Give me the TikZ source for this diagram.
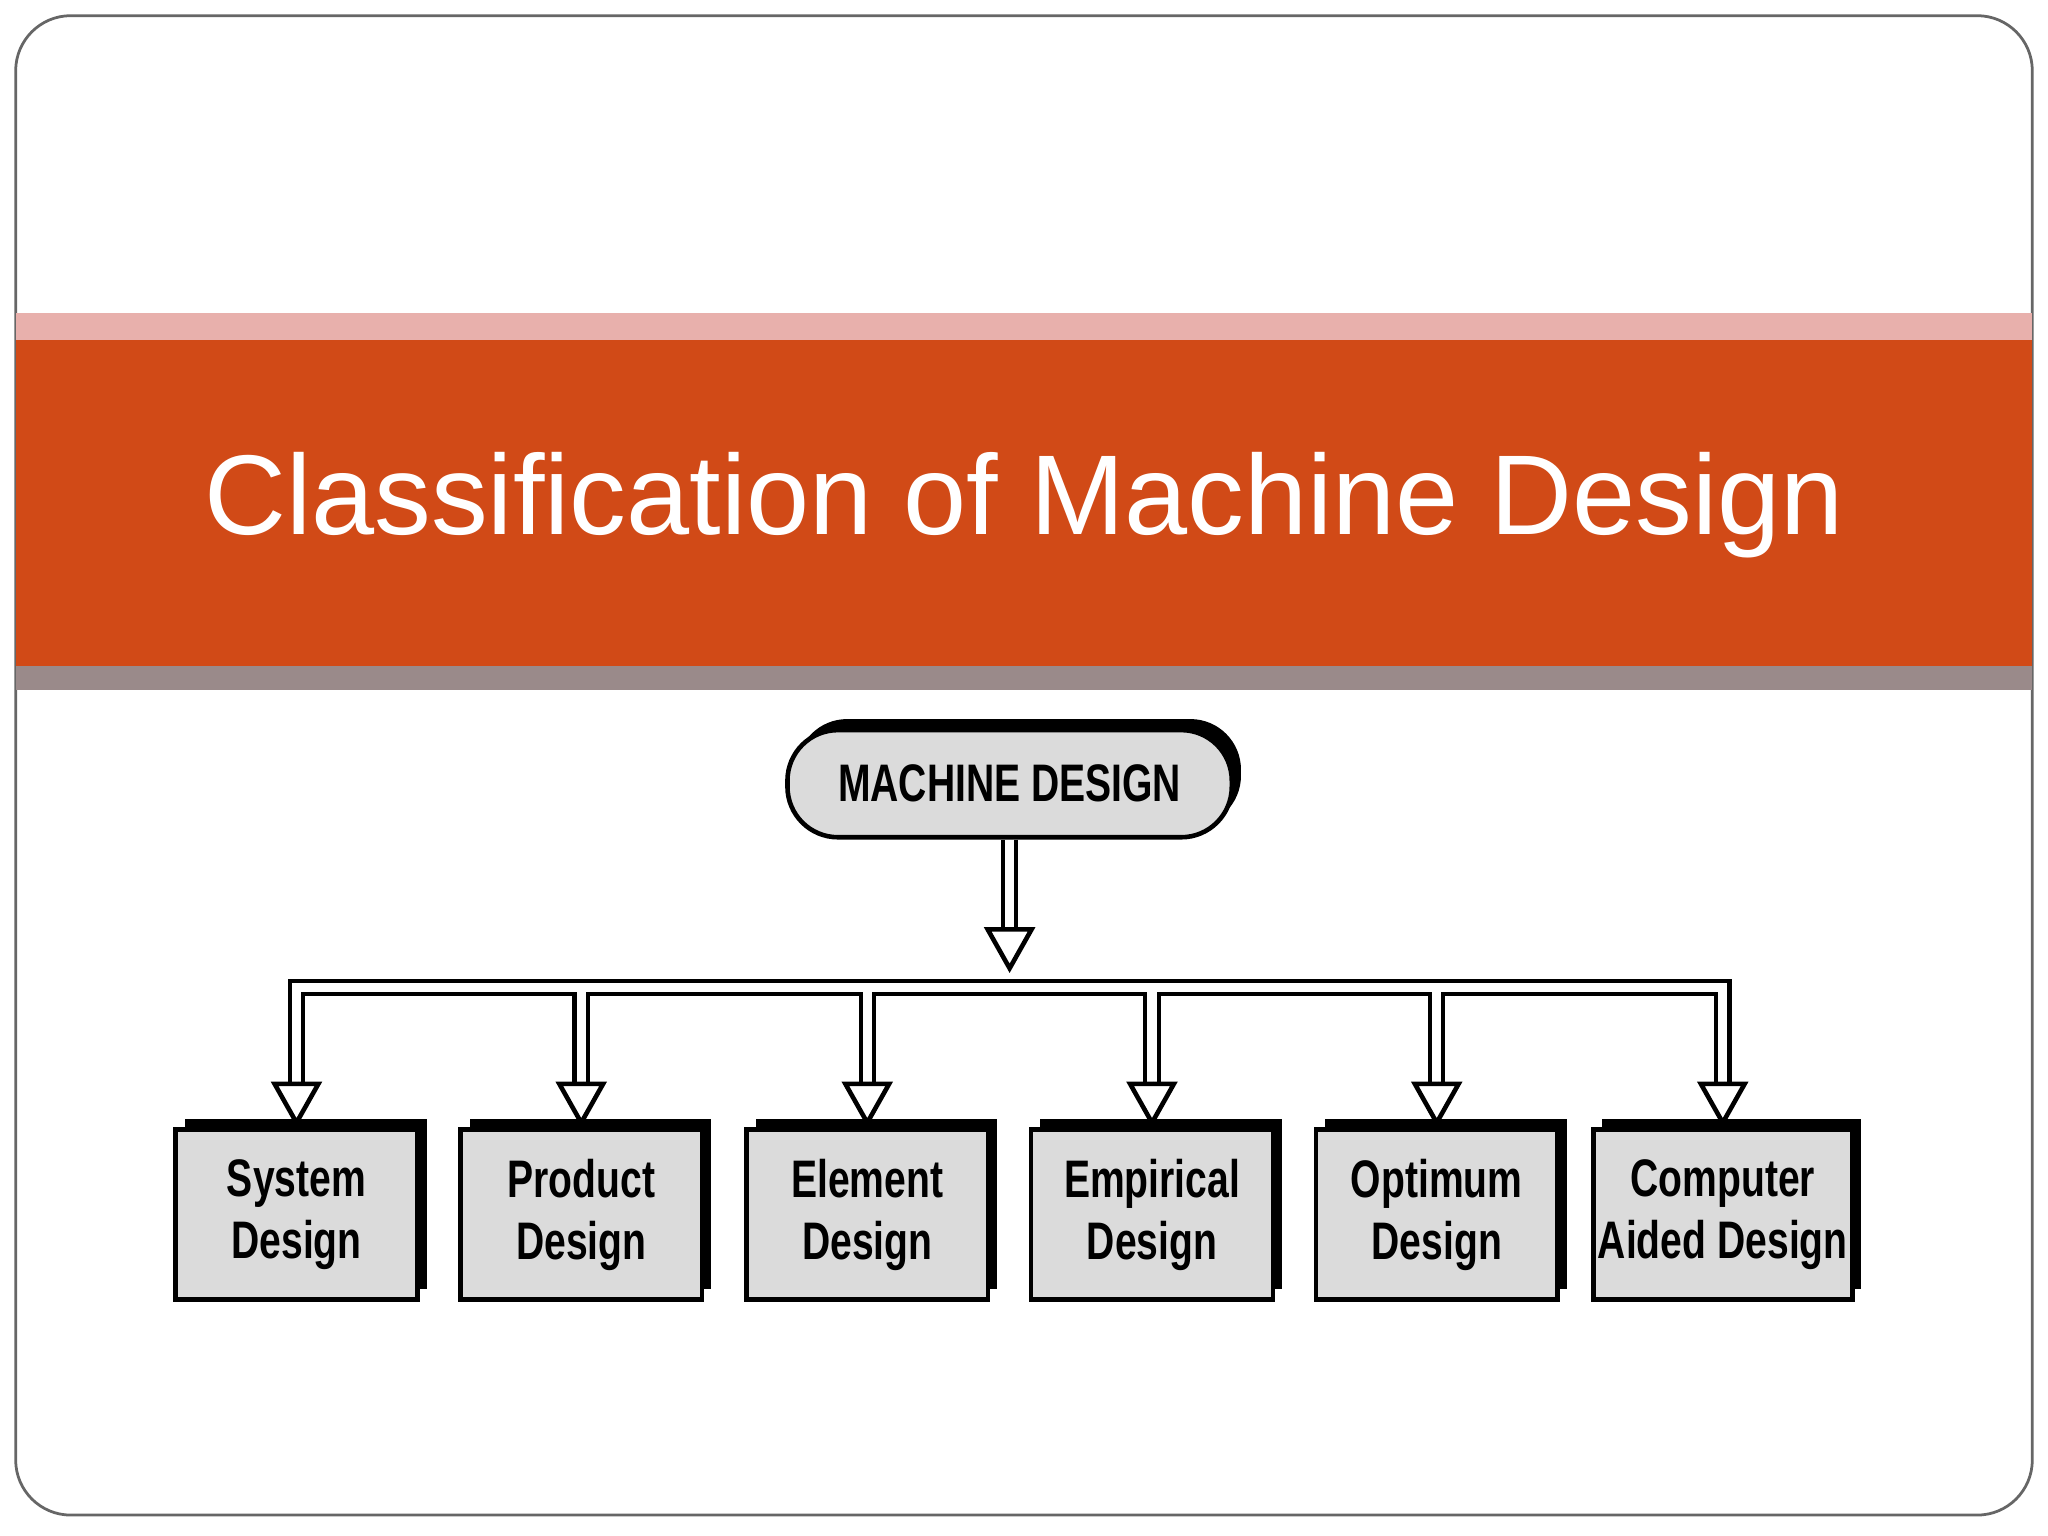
\documentclass[tikz,border=0pt]{standalone}
\usepackage{fontspec}
\setmainfont{Liberation Sans}
\newfontfamily\boxfont{Liberation Sans}[FakeStretch=0.74]
\usetikzlibrary{arrows.meta,shadows}
\definecolor{bandred}{HTML}{D14A17}
\definecolor{bandpink}{HTML}{E8B0AC}
\definecolor{bandgray}{HTML}{9A8A8A}
\tikzset{
  design/.style={draw, line width=1pt, fill=black!14, minimum width=1.85cm, minimum height=1.3cm,
    align=center, font=\boxfont\bfseries\fontsize{11.5}{13.5}\selectfont, inner sep=1pt,
    drop shadow={shadow xshift=2pt, shadow yshift=2.4pt, fill=black, opacity=1}},
  outer/.style={line width=3.8pt, black},
  inner/.style={line width=2pt, white},
  head/.style={line width=1pt, -{Triangle[open, fill=white, length=10pt, width=11pt]}},
}
\begin{document}
\begin{tikzpicture}[x=0.01cm, y=-0.01cm]
\useasboundingbox (0,0) rectangle (1568,1176);
\fill[white] (0,0) rectangle (1568,1176);
% slide frame and title band
\draw[black!60, line width=0.6pt, rounded corners=12pt] (12,12) rectangle (1556,1160);
\fill[bandpink] (12,240) rectangle (1556,260);
\fill[bandred] (12,260) rectangle (1556,510);
\fill[bandgray] (12,510) rectangle (1556,528);
\node[white, font=\fontsize{24.7}{29}\selectfont] (title) at (784,387) {Classification of Machine Design};

% top node
\node[draw, line width=1pt, fill=black!14, rounded corners=11pt, minimum width=3.4cm, minimum height=0.82cm,
  font=\boxfont\bfseries\fontsize{11.5}{13.5}\selectfont,
  drop shadow={shadow xshift=2pt, shadow yshift=2.4pt, fill=black, opacity=1}] (md) at (773,600) {MACHINE DESIGN};

% classes
\node[design] (sys) at (227,930) {System\\Design};
\node[design] (prod) at (445,930) {Product\\Design};
\node[design] (elem) at (664,930) {Element\\Design};
\node[design] (emp) at (882,930) {Empirical\\Design};
\node[design] (opt) at (1100,930) {Optimum\\Design};
\node[design, minimum width=1.98cm] (cad) at (1319,930) {Computer\\Aided Design};

% bus
\coordinate (stem) at (773,710);
\foreach \n in {sys,prod,elem,emp,opt,cad}
  \coordinate (\n-h) at ([yshift=10pt]\n.north);
\draw[outer] (md.south) -- (stem);
\draw[outer] (sys-h) |- (773,756) -| (cad-h);
\foreach \n in {prod,elem,emp,opt}
  \draw[outer] (\n-h) -- (\n-h |- 0,756);
\draw[inner] (md.south) -- (stem);
\draw[inner] (sys-h) |- (773,756) -| (cad-h);
\foreach \n in {prod,elem,emp,opt}
  \draw[inner] (\n-h) -- (\n-h |- 0,756);

% heads
\draw[head] (stem) -- (773,745);
\foreach \n in {sys,prod,elem,emp,opt,cad}
  \draw[head] (\n-h) -- (\n.north);
\end{tikzpicture}
\end{document}
